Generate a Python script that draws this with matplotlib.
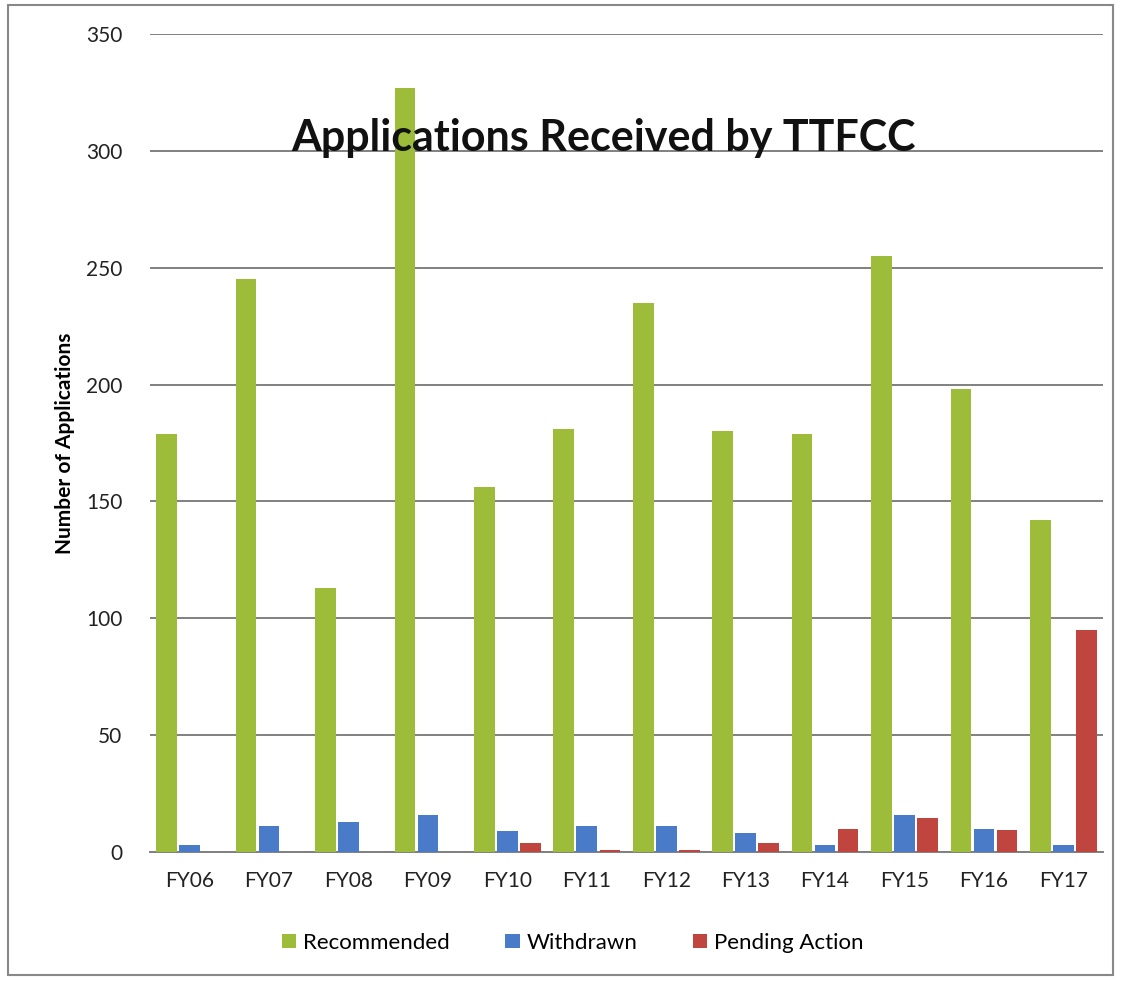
import matplotlib
matplotlib.use("Agg")
import matplotlib.pyplot as plt
import numpy as np
from matplotlib.patches import Rectangle

categories = ["FY06", "FY07", "FY08", "FY09", "FY10", "FY11", "FY12", "FY13", "FY14", "FY15", "FY16", "FY17"]
recommended = [179, 245, 113, 327, 156, 181, 235, 180, 179, 255, 198, 142]
withdrawn = [3, 11, 13, 16, 9, 11, 11, 8, 3, 16, 10, 3]
pending = [0, 0, 0, 0, 4, 1, 1, 4, 10, 14.5, 9.5, 95]
yticks = [0, 50, 100, 150, 200, 250, 300, 350]

plt.rcParams['font.family'] = ['Lato', 'DejaVu Sans']

fig = plt.figure(figsize=(11.21, 9.81), dpi=100)
ax = fig.add_axes([0.1338, 0.1315, 0.8502, 0.8338])

x = np.arange(len(categories))
w = 0.26
off = 0.29
c_g, c_b, c_r = "#9DBD3A", "#4A7BC8", "#C0453F"
ax.bar(x - off, recommended, w, color=c_g, label="Recommended", zorder=3)
ax.bar(x, withdrawn, w, color=c_b, label="Withdrawn", zorder=3)
ax.bar(x + off, pending, w, color=c_r, label="Pending Action", zorder=3)

ax.set_xlim(-0.5, len(categories) - 0.5)
ax.set_ylim(0, 350)
ax.set_yticks(yticks)
ax.set_xticks(x)
ax.set_xticklabels(categories)
ax.tick_params(axis='both', length=0, labelsize=15, colors="#222222")
ax.tick_params(axis='y', pad=20)
ax.tick_params(axis='x', pad=14)
ax.yaxis.grid(True, color="#808080", linewidth=1.4, zorder=0)
for s in ["top", "right", "left"]:
    ax.spines[s].set_visible(False)
ax.spines["bottom"].set_color("#808080")
ax.spines["bottom"].set_linewidth(1.4)

ax.set_ylabel("Number of Applications", fontsize=15, fontweight="bold", labelpad=8)
ax.text(0.476, 0.873, "Applications Received by TTFCC", transform=ax.transAxes,
        ha="center", va="center", fontsize=31, fontweight="bold", color="#111111", zorder=5)

leg = fig.legend(loc="center", bbox_to_anchor=(0.511, 0.039), ncol=3, frameon=False,
                 fontsize=16, handlelength=0.65, handleheight=0.65, handletextpad=0.3,
                 columnspacing=2.5)

fig.patches.append(Rectangle((0.007, 0.006), 0.986, 0.989, transform=fig.transFigure,
                             fill=False, edgecolor="#888888", linewidth=1.5))

fig.savefig("out.png", dpi=100)
